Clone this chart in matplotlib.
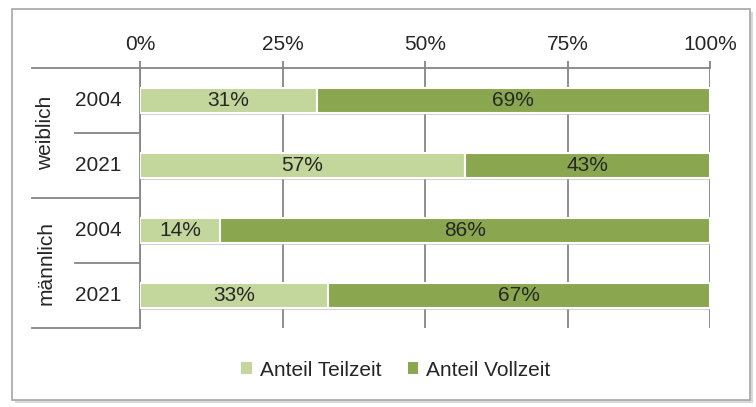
import matplotlib
matplotlib.use("Agg")
import matplotlib.pyplot as plt
import matplotlib.patheffects as pe
from matplotlib.lines import Line2D
from matplotlib.patches import Rectangle, Patch

groups = ["weiblich", "männlich"]
years = ["2004", "2021", "2004", "2021"]
teilzeit = [31, 57, 14, 33]
vollzeit = [69, 43, 86, 67]
xticks = [0, 25, 50, 75, 100]
xticklabels = ["0%", "25%", "50%", "75%", "100%"]
series_names = ["Anteil Teilzeit", "Anteil Vollzeit"]

plt.rcParams['font.family'] = ['Liberation Sans', 'DejaVu Sans']
W, H = 756, 407
FS = 15
fig = plt.figure(figsize=(W / 100, H / 100), dpi=100)

# figure frame with shadow
fig.patches.append(Rectangle((15 / W, 1 - 403 / H), 738 / W, 391 / H, transform=fig.transFigure,
                             facecolor="#d9d9d9", edgecolor="none", zorder=-3))
fig.patches.append(Rectangle((12 / W, 1 - 400 / H), 738 / W, 391 / H, transform=fig.transFigure,
                             facecolor="white", edgecolor="#a6a6a6", lw=1.2, zorder=-2))

ax = fig.add_axes([140 / W, 1 - 328 / H, 570 / W, 260 / H])
ax.set_facecolor("none")
c_light = "#c3d69b"
c_dark = "#8aa750"
ypos = list(range(len(years)))
shadow = [pe.SimplePatchShadow(offset=(0.5, -1.5), shadow_rgbFace="#b0b0b0", alpha=0.6), pe.Normal()]
b1 = ax.barh(ypos, teilzeit, height=0.37, color=c_light, edgecolor="white", lw=1.5, zorder=3)
b2 = ax.barh(ypos, vollzeit, left=teilzeit, height=0.37, color=c_dark, edgecolor="white", lw=1.5, zorder=3)
for p in list(b1) + list(b2):
    p.set_path_effects(shadow)
for y, t, v in zip(ypos, teilzeit, vollzeit):
    ax.text(t / 2, y, f"{t}%", ha="center", va="center", fontsize=FS, color="#262626", zorder=4)
    ax.text(t + v / 2, y, f"{v}%", ha="center", va="center", fontsize=FS, color="#262626", zorder=4)

ax.set_xlim(0, 100)
ax.set_ylim(3.5, -0.5)
ax.xaxis.tick_top()
ax.set_xticks(xticks)
ax.set_xticklabels(xticklabels, fontsize=FS, color="#262626")
ax.tick_params(axis="x", length=5, width=1.3, color="#868686", pad=5)
ax.set_yticks([])
ax.grid(axis="x", color="#868686", lw=1.3, zorder=1)
for s in ["right", "bottom"]:
    ax.spines[s].set_visible(False)
for s in ["left", "top"]:
    ax.spines[s].set_color("#868686")
    ax.spines[s].set_linewidth(1.3)

# category label structure
tr = ax.transAxes
xa = (32 - 140) / 570
xb = (75 - 140) / 570
for yy in [1.0, 0.5, 0.0]:
    ax.add_line(Line2D([xa, 0], [yy, yy], transform=tr, color="#868686", lw=1.3, clip_on=False))
for yy in [0.75, 0.25]:
    ax.add_line(Line2D([xb, 0], [yy, yy], transform=tr, color="#868686", lw=1.3, clip_on=False))
for i, yr in enumerate(years):
    ax.text((98 - 140) / 570, 1 - (i + 0.5) / 4, yr, transform=tr, ha="center", va="center",
            fontsize=FS, color="#262626")
for i, g in enumerate(groups):
    ax.text((46 - 140) / 570, 1 - (i + 0.5) / 2, g, transform=tr, ha="center", va="center",
            rotation=90, fontsize=FS, color="#262626")

handles = [Patch(facecolor=c_light, edgecolor="none"), Patch(facecolor=c_dark, edgecolor="none")]
fig.legend(handles, series_names, loc="center", bbox_to_anchor=(396 / W, 1 - 370 / H), ncol=2,
           frameon=False, fontsize=FS, handlelength=0.5, handleheight=0.5, handletextpad=0.4,
           columnspacing=1.25, labelcolor="#262626")

fig.savefig("out.png", dpi=100)
